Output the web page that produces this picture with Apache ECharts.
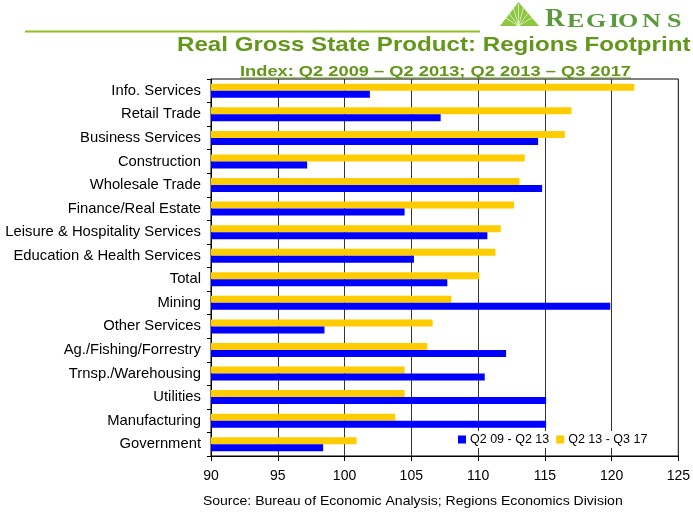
<!DOCTYPE html>
<html>
<head>
<meta charset="utf-8">
<script src="https://cdn.jsdelivr.net/npm/echarts@6/dist/echarts.min.js"></script>
<style>
html,body{margin:0;padding:0;background:#fff;}
#chart{width:693px;height:514px;}
</style>
</head>
<body>
<div id="chart"></div>
<script>
const categories = ["Info. Services","Retail Trade","Business Services","Construction","Wholesale Trade","Finance/Real Estate","Leisure & Hospitality Services","Education & Health Services","Total","Mining","Other Services","Ag./Fishing/Forrestry","Trnsp./Warehousing","Utilities","Manufacturing","Government"];
const q209_q213 = [101.9,107.2,114.5,97.2,114.8,104.5,110.7,105.2,107.7,119.9,98.5,112.1,110.5,115.1,115.1,98.4];
const q213_q317 = [121.7,117.0,116.5,113.5,113.1,112.7,111.7,111.3,110.1,108.0,106.6,106.2,104.5,104.5,103.8,100.9];
const seriesNames = ["Q2 09 - Q2 13","Q2 13 - Q3 17"];
const xTicks = {min:90, max:125, step:5};
const titleText = "Real Gross State Product: Regions Footprint";
const subtitleText = "Index: Q2 2009 \u2013 Q2 2013; Q2 2013 \u2013 Q3 2017";
const sourceText = "Source: Bureau of Economic Analysis; Regions Economics Division";

const green = '#62971a';
const chart = echarts.init(document.getElementById('chart'), null, {renderer:'canvas'});

const logoLetters = [
  {t:'R', x:545, s:25, k:1.1},
  {t:'E', x:567, s:18, k:1.45},
  {t:'G', x:586, s:18, k:1.45},
  {t:'I', x:609, s:18, k:1.45},
  {t:'O', x:618, s:18, k:1.45},
  {t:'N', x:642, s:18, k:1.45},
  {t:'S', x:667, s:18, k:1.45}
];
const rays = [[504,17],[508,12],[513,6],[518.5,4],[524,6],[529,12],[533,17]];

const graphics = [
  {type:'line', shape:{x1:25,y1:31.5,x2:480,y2:31.5}, style:{stroke:'#8dc21f', lineWidth:2}},
  {type:'polygon', shape:{points:[[500,26],[518.5,2],[539,26]]}, style:{fill:'#8dc63f'}},
  ...rays.map(p => ({type:'line', shape:{x1:518.5,y1:26,x2:p[0],y2:p[1]}, style:{stroke:'#e9f5d8', lineWidth:0.8}})),
  ...logoLetters.map(l => ({type:'text', x:l.x, y:27.5 - 0.305*l.s, scaleX:l.k, style:{text:l.t, fontFamily:'"Liberation Serif"', fontWeight:'bold', fontSize:l.s, fill:'#5a9a3c', align:'left', verticalAlign:'middle'}})),
  {type:'text', x:177, y:45, scaleX:1.177, style:{text:titleText, fontFamily:'"Liberation Sans"', fontWeight:'bold', fontSize:20.5, fill:green, align:'left', verticalAlign:'middle'}},
  {type:'text', x:435.5, y:71.5, scaleX:1.218, style:{text:subtitleText, fontFamily:'"Liberation Sans"', fontWeight:'bold', fontSize:15, fill:green, align:'center', verticalAlign:'middle'}},
  {type:'line', shape:{x1:240,y1:78,x2:631,y2:78}, style:{stroke:green, lineWidth:1}},
  {type:'text', x:412.8, y:501.5, scaleX:1.08, style:{text:sourceText, fontFamily:'"Liberation Sans"', fontSize:13, fill:'#000', align:'center', verticalAlign:'middle'}}
];

chart.setOption({
  animation:false,
  backgroundColor:'#fff',
  grid:{left:211, top:79, width:468, height:377, show:true, borderColor:'#000', borderWidth:1, backgroundColor:'transparent'},
  legend:{
    data:[seriesNames[0], seriesNames[1]],
    left:455, top:431, orient:'horizontal',
    backgroundColor:'#fff', padding:[2,3,2,3],
    icon:'rect', itemWidth:8, itemHeight:8, itemGap:7,
    textStyle:{fontFamily:'"Liberation Sans"', fontSize:12.5, color:'#000', padding:[0,0,0,-1]}
  },
  xAxis:{
    type:'value', min:xTicks.min, max:xTicks.max, interval:xTicks.step,
    axisLine:{show:true, lineStyle:{color:'#000', width:1}},
    axisTick:{show:true, length:5, lineStyle:{color:'#000'}},
    axisLabel:{fontFamily:'"Liberation Sans"', fontSize:14, color:'#000', margin:13},
    splitLine:{show:true, lineStyle:{color:'#333', width:1}}
  },
  yAxis:{
    type:'category', data:categories, inverse:true,
    axisLine:{show:true, lineStyle:{color:'#000', width:1}},
    axisTick:{show:true, length:4, lineStyle:{color:'#000'}},
    axisLabel:{fontFamily:'"Liberation Sans"', fontSize:14.8, color:'#000', margin:10},
    splitLine:{show:false}
  },
  series:[
    {name:seriesNames[1], type:'bar', data:q213_q317, barWidth:7, barGap:'0%', itemStyle:{color:'#ffcc00'}},
    {name:seriesNames[0], type:'bar', data:q209_q213, barWidth:7, barGap:'0%', itemStyle:{color:'#0000ff'}}
  ],
  graphic:graphics
});
</script>
</body>
</html>
